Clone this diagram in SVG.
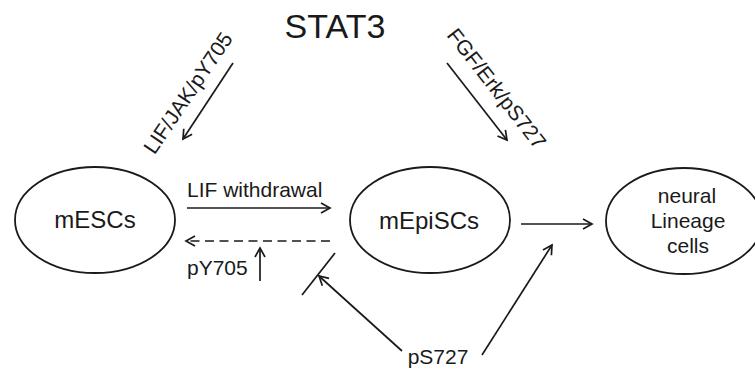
<svg xmlns="http://www.w3.org/2000/svg" width="755" height="373" viewBox="0 0 755 373">
  <style>
    .node { fill: none; stroke: #1a1a1a; stroke-width: 1.8; }
    .edge { fill: none; stroke: #1a1a1a; stroke-width: 1.7; }
    .dash { stroke-dasharray: 9 5.5; }
    text { font-family: "Liberation Sans", Arial, sans-serif; fill: #1a1a1a; }
    .title { font-size: 34px; }
    .name { font-size: 24px; text-anchor: middle; }
    .label { font-size: 21px; }
  </style>
  <defs>
    <marker id="head" markerUnits="userSpaceOnUse" markerWidth="13" markerHeight="13" viewBox="0 0 13 13" refX="11" refY="6.5" orient="auto">
      <path d="M2,1.5 L11,6.5 L2,11.5" fill="none" stroke="#1a1a1a" stroke-width="1.7"/>
    </marker>
  </defs>

  <text class="title" x="335" y="38" text-anchor="middle">STAT3</text>

  <g id="mESCs">
    <ellipse class="node" cx="95" cy="220" rx="80" ry="53"/>
    <text class="name" x="95" y="228">mESCs</text>
  </g>

  <g id="mEpiSCs">
    <ellipse class="node" cx="430" cy="220" rx="80" ry="53"/>
    <text class="name" x="429" y="229">mEpiSCs</text>
  </g>

  <g id="neural">
    <ellipse class="node" cx="684" cy="221" rx="78" ry="53"/>
    <text class="label" x="687" y="203" text-anchor="middle">neural</text>
    <text class="label" x="688" y="228" text-anchor="middle">Lineage</text>
    <text class="label" x="688" y="253" text-anchor="middle">cells</text>
  </g>

  <g id="connectors">
    <!-- upstream signals onto STAT3 -->
    <line class="edge" x1="233" y1="63" x2="183" y2="139" marker-end="url(#head)"/>
    <text class="label" x="194" y="97" text-anchor="middle" transform="rotate(-56 194 97)">LIF/JAK/pY705</text>
    <line class="edge" x1="447" y1="63" x2="507" y2="140" marker-end="url(#head)"/>
    <text class="label" x="491" y="93" text-anchor="middle" transform="rotate(52 491 93)">FGF/Erk/pS727</text>

    <!-- mESCs <-> mEpiSCs -->
    <line class="edge" x1="187" y1="208" x2="330" y2="208" marker-end="url(#head)"/>
    <text class="label" x="187" y="197">LIF withdrawal</text>
    <line class="edge dash" x1="330" y1="241" x2="186" y2="241" marker-end="url(#head)"/>
    <text class="label" x="187" y="275">pY705</text>
    <line class="edge" x1="260" y1="281" x2="260" y2="248" marker-end="url(#head)"/>

    <!-- pS727 blocks the reverse transition -->
    <line class="edge" x1="335" y1="253" x2="302" y2="295"/>
    <line class="edge" x1="402" y1="351" x2="319" y2="276" marker-end="url(#head)"/>

    <!-- mEpiSCs -> neural lineage -->
    <line class="edge" x1="521" y1="224" x2="592" y2="224" marker-end="url(#head)"/>
    <line class="edge" x1="482" y1="355" x2="552" y2="245" marker-end="url(#head)"/>
    <text class="label" x="438" y="364" text-anchor="middle">pS727</text>
  </g>
</svg>
